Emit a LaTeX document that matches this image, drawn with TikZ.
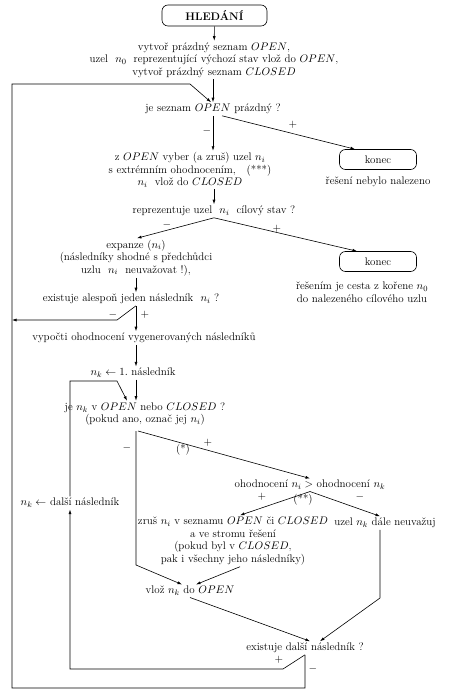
\documentclass[tikz,border=0pt]{standalone}
\usepackage{fontspec}
\usetikzlibrary{arrows.meta,positioning}

\begin{document}
\begin{tikzpicture}[
  x=1pt, y=-1pt,
  font=\fontsize{11}{12.5}\selectfont,
  line width=0.6pt,
  txt/.style={align=center, inner sep=1.5pt},
  term/.style={draw, rounded corners=6pt, minimum width=77pt, minimum height=20pt, inner sep=2pt},
  sign/.style={inner sep=0pt},
  arrow/.style={-{Latex[length=4.5pt,width=3pt]}}
]
\useasboundingbox (0,0) rectangle (460,700);
\node[term, minimum width=105pt, minimum height=21pt] (start) at (214.5,15.5) {\textbf{HLEDÁNÍ}};
\node[txt] (init) at (214,60) {vytvoř prázdný seznam $OPEN$,\\uzel~ $n_0$~ reprezentující výchozí stav vlož do $OPEN$,\\vytvoř prázdný seznam $CLOSED$};
\node[txt] (openq) at (213,109) {je seznam $OPEN$ prázdný ?};
\node[txt] (select) at (190,170) {z $OPEN$ vyber (a zruš) uzel $n_i$\\s extrémním ohodnocením, ~ (***)\\$n_i$~ vlož do $CLOSED$};
\node[term] (end1) at (378,159.5) {konec};
\node[txt] (lab1) at (378,182) {řešení nebylo nalezeno};
\node[txt] (goalq) at (214,211) {reprezentuje uzel~ $n_i$~ cílový stav ?};
\node[term] (end2) at (378,261.5) {konec};
\node[txt] (lab2) at (362,292) {řešením je cesta z kořene $n_0$\\do nalezeného cílového uzlu};
\node[txt] (expand) at (136,258) {expanze ($n_i$)\\(následníky shodné s předchůdci\\uzlu~ $n_i$~ neuvažovat !),};
\node[txt] (existq) at (131,299) {existuje alespoň jeden následník~ $n_i$ ?};
\node[txt] (evaluate) at (144,338) {vypočti ohodnocení vygenerovaných následníků};
\node[txt] (first) at (133,373) {$n_k \leftarrow 1.$ následník};
\node[txt] (inq) at (145,414) {je $n_k$ v $OPEN$ nebo $CLOSED$ ?\\(pokud ano, označ jej $n_i$)};
\node[txt] (cmp) at (310,485) {ohodnocení $n_i >$ ohodnocení $n_k$};
\node[txt] (remove) at (233,541) {zruš $n_i$ v seznamu $OPEN$ či $CLOSED$\\a ve stromu řešení\\(pokud byl v $CLOSED$,\\pak i všechny jeho následníky)};
\node[txt] (ignore) at (385,523) {uzel $n_k$ dále neuvažuj};
\node[txt] (insert) at (190,591) {vlož $n_k$ do $OPEN$};
\node[txt] (nextq) at (305,648) {existuje další následník ?};
\node[txt] (next) at (70,503) {$n_k \leftarrow$ další následník};
% bends
\coordinate (toprail) at (12,84);
\coordinate (tbend) at (190,84);
\coordinate (lowrail) at (12,688);
\coordinate (midrail) at (12,320);
\coordinate (mbend) at (117,320);
\coordinate (kfork) at (136,431);
\coordinate (kbend) at (136,565);
\coordinate (kloop) at (117,381);
\coordinate (ibend) at (380,598);
\coordinate (pbend) at (283,669);
% connectors
\draw[arrow] (start) -- (init);
\draw[arrow] (init.south -| openq) -- (openq);
\draw[arrow] (openq.south) -- (openq.south |- select.north);
\draw[arrow] ([xshift=9pt]openq.south) -- ([xshift=-23pt]end1.north);
\draw[arrow] (goalq |- select.south) -- (goalq.north);
\draw[arrow] (goalq.south) -- ([xshift=1pt]expand.north);
\draw[arrow] (goalq.south) -- ([xshift=-21pt]end2.north);
\draw[arrow] (expand.south) -- (expand.south |- existq.north);
\draw[arrow] (expand |- existq.south) -- (expand |- evaluate.north);
\draw[arrow] (expand |- existq.south) -- (mbend) -- (midrail);
\draw[arrow] (expand |- evaluate.south) -- (expand |- first.north);
\draw[arrow] (expand |- first.south) -- (expand |- inq.north);
\draw[arrow] (kfork) -- (kbend) -- ([xshift=-8pt]insert.north);
\draw[arrow] ([xshift=2pt]kfork) -- (cmp.north);
\draw[arrow] (cmp.south) -- ([xshift=7pt]remove.north);
\draw[arrow] (cmp.south) -- ([xshift=-5pt]ignore.north);
\draw[arrow] ([xshift=7pt]remove.south) -- ([xshift=6pt]insert.north);
\draw[arrow] ([xshift=-5pt]ignore.south) -- (ibend) -- ([xshift=15pt]nextq.north);
\draw[arrow] (insert.south) -- ([xshift=5pt]nextq.north);
\draw[arrow] (nextq.south) -- (pbend) -- (pbend -| next) -- (next.south);
\draw[arrow] (next.north) -- (next.north |- kloop) -- (kloop) -- ([xshift=-18pt]inq.north);
\draw[arrow] (nextq.south) -- (nextq.south |- lowrail) -- (lowrail) -- (toprail) -- (tbend) -- ([xshift=-2pt]openq.north);
% signs
\node[sign] (s1) at (207,131) {$-$};
\node[sign] (s2) at (293,125) {$+$};
\node[sign] (s3) at (167,225) {$-$};
\node[sign] (s4) at (277,229) {$+$};
\node[sign] (s5) at (113,315) {$-$};
\node[sign] (s6) at (145,315) {$+$};
\node[sign] (s7) at (127,448) {$-$};
\node[sign] (s8) at (208,443) {$+$};
\node[sign] (s9) at (262,497) {$+$};
\node[sign] (s10) at (360,497) {$-$};
\node[sign] (s11) at (279,660) {$+$};
\node[sign] (s12) at (313,669) {$-$};
\node[sign] (star1) at (183,450) {(*)};
\node[sign] (star2) at (303,500) {(**)};
\end{tikzpicture}
\end{document}
